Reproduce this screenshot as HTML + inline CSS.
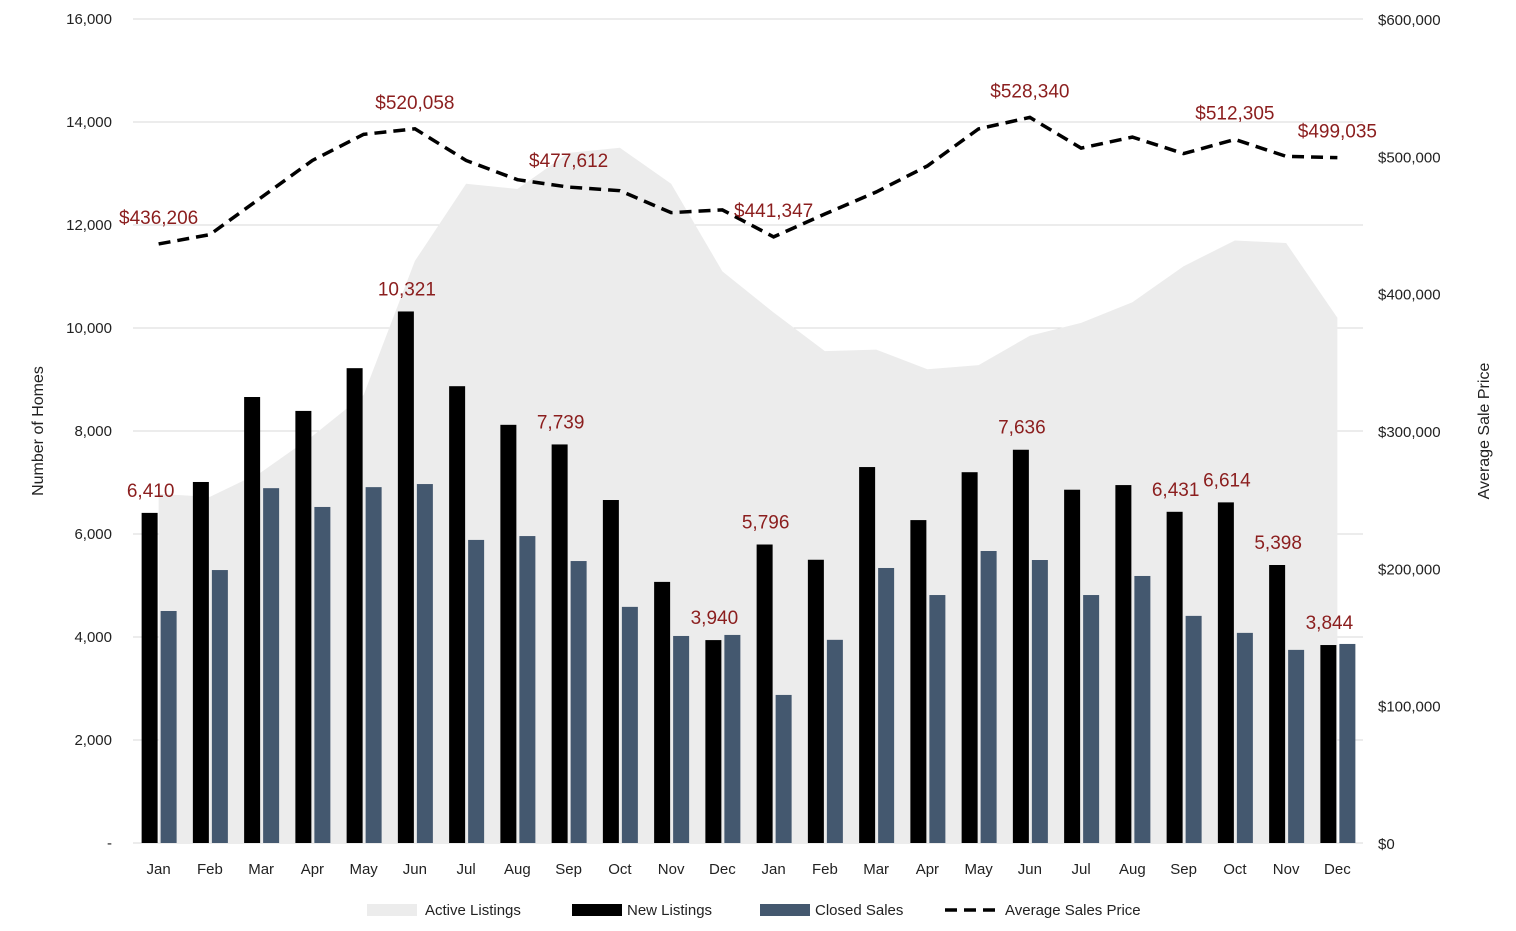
<!DOCTYPE html>
<html><head><meta charset="utf-8"><style>
body{margin:0;background:#fff;font-family:"Liberation Sans",sans-serif}
svg text{font-family:"Liberation Sans",sans-serif}
</style></head><body>
<svg id="c" width="1516" height="926"></svg>
<script>
const months=["Jan","Feb","Mar","Apr","May","Jun","Jul","Aug","Sep","Oct","Nov","Dec","Jan","Feb","Mar","Apr","May","Jun","Jul","Aug","Sep","Oct","Nov","Dec"];
const newListings=[6410,7010,8660,8390,9220,10321,8870,8120,7739,6660,5070,3940,5796,5500,7300,6270,7200,7636,6860,6950,6431,6614,5398,3844];
const closedSales=[4505,5300,6890,6525,6910,6970,5885,5960,5475,4585,4020,4040,2875,3945,5340,4815,5670,5495,4815,5185,4410,4080,3750,3865];
const activeListings=[6780,6720,7200,7900,8700,11300,12800,12700,13400,13500,12800,11100,10300,9550,9580,9200,9280,9850,10100,10500,11200,11700,11650,10200];
const avgPrice=[436206,443000,470000,497000,516000,520058,497000,483000,477612,475000,459000,461000,441347,458000,474000,493000,520000,528340,506000,514000,502000,512305,500000,499035];
const leftTicks=[0,2000,4000,6000,8000,10000,12000,14000,16000];
const rightTicks=[0,100000,200000,300000,400000,500000,600000];
const newLabelIdx=[0,5,8,11,12,17,20,21,22,23];
const priceLabelIdx=[0,5,8,12,17,21,23];

const X0=133,X1=1363,Y0=843,Y1=19;
const bw=(X1-X0)/months.length;
const yL=v=>Y0-(v/16000)*(Y0-Y1);
const yR=v=>Y0-(v/600000)*(Y0-Y1);
const xc=i=>X0+bw*(i+0.5);
const svg=document.getElementById('c');
const NS="http://www.w3.org/2000/svg";
function mk(t,a,txt){const e=document.createElementNS(NS,t);for(const k in a)e.setAttribute(k,a[k]);if(txt!==undefined)e.textContent=txt;svg.appendChild(e);return e;}
const fmt=n=>n.toLocaleString('en-US');

leftTicks.forEach(v=>{
  const g=mk('line',{x1:X0,x2:X1,y1:yL(v),y2:yL(v),stroke:'#d9d9d9','stroke-width':1});
  
  
  const t=mk('text',{x:112,y:yL(v)+5,'text-anchor':'end','font-size':15,fill:'#222'},v===0?'-':fmt(v));
  
  
});
rightTicks.forEach(v=>{
  const t=mk('text',{x:1378,y:yR(v)+6,'font-size':15,fill:'#222'},'$'+fmt(v));
  
  
});
// area
let d='M'+xc(0)+','+Y0;
activeListings.forEach((v,i)=>{d+=' L'+xc(i)+','+yL(v);});
d+=' L'+xc(23)+','+Y0+' Z';
const area=mk('path',{d:d,fill:'#ececec'});


// bars
months.forEach((m,i)=>{
  const c=xc(i);
  const b1=mk('rect',{x:c-17,y:yL(newListings[i]),width:16,height:Y0-yL(newListings[i]),fill:'#000'});
  
  
  const b2=mk('rect',{x:c+2,y:yL(closedSales[i]),width:16,height:Y0-yL(closedSales[i]),fill:'#44586f'});
  
  
  const t=mk('text',{x:c,y:874,'text-anchor':'middle','font-size':15,fill:'#222'},m);
  
  
});
// price line
const pts=avgPrice.map((v,i)=>xc(i)+','+yR(v)).join(' ');
const pl=mk('polyline',{points:pts,fill:'none',stroke:'#000','stroke-width':3.5,'stroke-dasharray':'12,7'});


// labels
newLabelIdx.forEach(i=>{
  const t=mk('text',{x:xc(i)-8,y:yL(newListings[i])-16,'text-anchor':'middle','font-size':19,fill:'#8b1e1e'},fmt(newListings[i]));
  
  
});
priceLabelIdx.forEach(i=>{
  const t=mk('text',{x:xc(i),y:yR(avgPrice[i])-20,'text-anchor':'middle','font-size':19,fill:'#8b1e1e'},'$'+fmt(avgPrice[i]));
  
  
});
// axis titles
const lt=mk('text',{x:0,y:0,transform:'translate(43,431) rotate(-90)','text-anchor':'middle','font-size':16,fill:'#222'},'Number of Homes');


const rt=mk('text',{x:0,y:0,transform:'translate(1489,431) rotate(-90)','text-anchor':'middle','font-size':16,fill:'#222'},'Average Sale Price');


// legend
const lg=[['Active Listings','#ececec',367,425],['New Listings','#000',572,627],['Closed Sales','#44586f',760,815]];
lg.forEach(l=>{
  const r=mk('rect',{x:l[2],y:904,width:50,height:12,fill:l[1]});
  
  
  const t=mk('text',{x:l[3],y:915,'font-size':15,fill:'#222'},l[0]);
  
  
});
const ll=mk('line',{x1:945,x2:998,y1:910,y2:910,stroke:'#000','stroke-width':3.5,'stroke-dasharray':'12,7'});


const lt2=mk('text',{x:1005,y:915,'font-size':15,fill:'#222'},'Average Sales Price');


</script>
</body></html>
